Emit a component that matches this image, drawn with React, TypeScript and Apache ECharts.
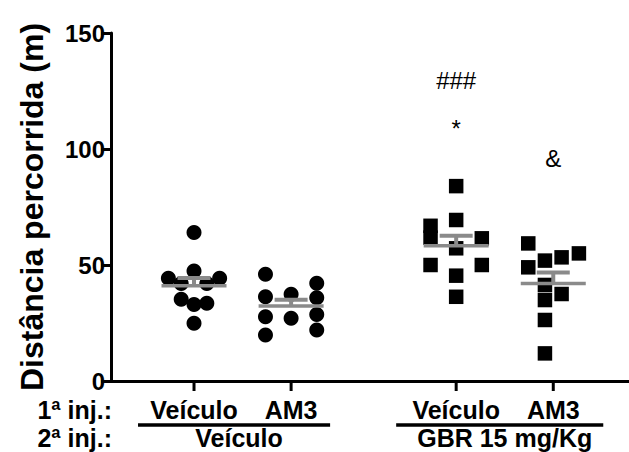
import React, { useEffect, useRef } from 'react';
import * as echarts from 'echarts';

// ---- data -------------------------------------------------------------
const firstInjection = ['Veículo', 'AM3', 'Veículo', 'AM3'];
const secondInjection = ['Veículo', 'GBR 15 mg/Kg'];
const rowLabels = ['1ª inj.:', '2ª inj.:'];
const yAxisTitle = 'Distância percorrida (m)';

// distance travelled (m) per animal
const veiculoVeiculo = [64, 47.4, 44.3, 44.3, 42, 42, 35.2, 33, 33.5, 24.9];
const am3Veiculo = [46, 36.3, 27.7, 19.8, 37.4, 27, 42.1, 35.9, 28.7, 22];
const veiculoGbr = [84, 69.4, 66.9, 61.8, 61.5, 57.2, 50, 50, 45.4, 36.3];
const am3Gbr = [59.3, 49, 51.9, 53.3, 55, 41.4, 34.9, 37.5, 26.3, 11.9];

const significanceMarks = ['###', '*', '&'];

// ---- layout -----------------------------------------------------------
const FONT = '"Liberation Sans", Arial, Helvetica, sans-serif';
const GRAY = '#8a8a8a';
const groupX = [1, 2, 3.7, 4.7];
const groupSymbols = ['circle', 'circle', 'rect', 'rect'];
const groupSymbolSize = [15, 15, 14.5, 14.5];
// horizontal swarm slot of each animal inside its column
const swarmSlots = [
  [0, 0, -2, 2, -1, 1, -1, 0, 1, 0],
  [-2, -2, -2, -2, 0, 0, 2, 2, 2, 2],
  [0, 0, -2, -2, 2, 0, -2, 2, 0, 0],
  [-1.95, -1.95, -0.65, 0.65, 2, -0.65, -0.65, 0.65, -0.65, -0.65],
];
const SLOT = 0.132;
const markGroup = [2, 2, 3];
const markAnchorY = [129.7, 109, 96];
const underlineOverhang = [
  [56, 39],
  [60, 50],
];

const groups = [veiculoVeiculo, am3Veiculo, veiculoGbr, am3Gbr];

function meanSem(values: number[]): [number, number] {
  const n = values.length;
  const mean = values.reduce((a, b) => a + b, 0) / n;
  const variance = values.reduce((a, b) => a + (b - mean) * (b - mean), 0) / (n - 1);
  return [mean, Math.sqrt(variance) / Math.sqrt(n)];
}

export default function App() {
  const ref = useRef<HTMLDivElement>(null);

  useEffect(() => {
    document.body.style.margin = '0';
    if (!ref.current) return;
    const chart = echarts.init(ref.current, null, { renderer: 'svg' });

    const scatterSeries = groups.map((values, i) => ({
      type: 'scatter',
      symbol: groupSymbols[i],
      symbolSize: groupSymbolSize[i],
      itemStyle: { color: '#000', opacity: 1 },
      z: 2,
      data: values.map((v, j) => [groupX[i] + swarmSlots[i][j] * SLOT, v]),
    }));

    const summary = groups.map((values, i) => {
      const [m, s] = meanSem(values);
      return [groupX[i], m, m + s];
    });

    const meanSeries = {
      type: 'custom',
      z: 5,
      encode: { x: 0, y: 1 },
      data: summary,
      renderItem: (_params: any, api: any) => {
        const c = api.coord([api.value(0), api.value(1)]);
        const t = api.coord([api.value(0), api.value(2)]);
        return {
          type: 'group',
          children: [
            {
              type: 'line',
              shape: { x1: c[0] - 32.5, y1: c[1], x2: c[0] + 32.5, y2: c[1] },
              style: { stroke: GRAY, lineWidth: 3.5 },
            },
            {
              type: 'line',
              shape: { x1: c[0], y1: c[1], x2: c[0], y2: t[1] },
              style: { stroke: GRAY, lineWidth: 4 },
            },
            {
              type: 'line',
              shape: { x1: c[0] - 16.5, y1: t[1], x2: c[0] + 16.5, y2: t[1] },
              style: { stroke: GRAY, lineWidth: 4 },
            },
          ],
        };
      },
    };

    chart.setOption({
      animation: false,
      backgroundColor: '#fff',
      grid: { left: 111, right: 0, top: 33, bottom: 71 },
      xAxis: {
        type: 'value',
        min: 0.145,
        max: 5.48,
        axisLine: { show: true, onZero: false, lineStyle: { color: '#000', width: 3 } },
        axisTick: { show: false },
        axisLabel: { show: false },
        splitLine: { show: false },
      },
      yAxis: {
        type: 'value',
        min: 0,
        max: 150,
        interval: 50,
        name: yAxisTitle,
        nameLocation: 'middle',
        nameRotate: 90,
        nameGap: 63,
        nameTextStyle: { fontSize: 32, fontWeight: 'bold', color: '#000', fontFamily: FONT },
        axisLine: { show: true, lineStyle: { color: '#000', width: 3 } },
        axisTick: { show: true, length: 10, lineStyle: { color: '#000', width: 3 } },
        axisLabel: { fontSize: 24, fontWeight: 'bold', color: '#000', margin: 6, fontFamily: FONT },
        splitLine: { show: false },
      },
      series: [...scatterSeries, meanSeries],
    });

    // x-axis ticks, injection labels and significance marks
    const px = (x: number, y: number) =>
      chart.convertToPixel({ gridIndex: 0 }, [x, y]) as number[];
    const axisY = px(groupX[0], 0)[1];
    const textStyle = (text: string, size: number, align: string, weight = 'bold') => ({
      text,
      fill: '#000',
      fontSize: size,
      fontWeight: weight,
      fontFamily: FONT,
      lineHeight: size + 1,
      align,
      textAlign: align,
      verticalAlign: 'middle',
      textVerticalAlign: 'middle',
    });

    const elements: any[] = [];
    groupX.forEach((gx, i) => {
      const x = px(gx, 0)[0];
      elements.push({
        type: 'line',
        shape: { x1: x, y1: axisY, x2: x, y2: axisY + 10 },
        style: { stroke: '#000', lineWidth: 3 },
      });
      elements.push({
        type: 'text',
        x,
        y: axisY + 29,
        style: textStyle(firstInjection[i], 25, 'center'),
      });
    });
    secondInjection.forEach((label, k) => {
      const left = px(groupX[2 * k], 0)[0] - underlineOverhang[k][0];
      const right = px(groupX[2 * k + 1], 0)[0] + underlineOverhang[k][1];
      elements.push({
        type: 'line',
        shape: { x1: left, y1: axisY + 44, x2: right, y2: axisY + 44 },
        style: { stroke: '#000', lineWidth: 3.5 },
      });
      elements.push({
        type: 'text',
        x: (left + right) / 2 + 5,
        y: axisY + 57,
        style: textStyle(label, 25, 'center'),
      });
    });
    rowLabels.forEach((label, r) => {
      elements.push({
        type: 'text',
        x: 112,
        y: axisY + 29 + r * 28,
        style: textStyle(label, 25, 'right'),
      });
    });
    significanceMarks.forEach((mark, m) => {
      const p = px(groupX[markGroup[m]], markAnchorY[m]);
      elements.push({
        type: 'text',
        x: p[0],
        y: p[1],
        style: textStyle(mark, 24, 'center', 'normal'),
      });
    });

    chart.setOption({ graphic: { elements } });

    return () => chart.dispose();
  }, []);

  return <div ref={ref} style={{ width: 629, height: 452 }} />;
}
